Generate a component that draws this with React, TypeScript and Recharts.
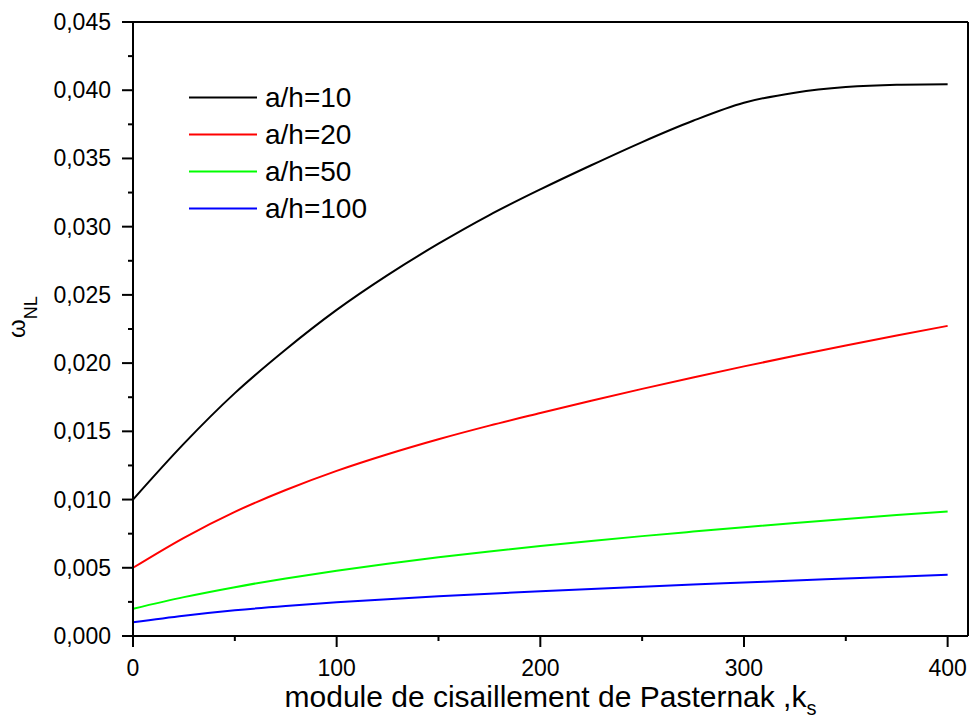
import { LineChart, Line, XAxis, YAxis, Legend, ReferenceLine, Label } from "recharts";

// shear modulus k_s (x)
const kValues = [0, 25, 50, 75, 100, 125, 150, 175, 200, 225, 250, 275, 300, 325, 350, 375, 400];

// omega_NL for each a/h ratio
const ah10 = [0.01000, 0.01410, 0.01780, 0.02100, 0.02390, 0.02645, 0.02875, 0.03085, 0.03273, 0.03450, 0.03620, 0.03776, 0.03908, 0.03982, 0.04023, 0.04040, 0.04044];
const ah20 = [0.00500, 0.00720, 0.00910, 0.01070, 0.01210, 0.01332, 0.01442, 0.01542, 0.01634, 0.01724, 0.01811, 0.01895, 0.01976, 0.02054, 0.02129, 0.02202, 0.02273];
const ah50 = [0.00200, 0.00285, 0.00358, 0.00422, 0.00479, 0.00530, 0.00577, 0.00620, 0.00660, 0.00697, 0.00732, 0.00765, 0.00797, 0.00828, 0.00858, 0.00886, 0.00912];
const ah100 = [0.00100, 0.00148, 0.00188, 0.00220, 0.00247, 0.00270, 0.00291, 0.00310, 0.00328, 0.00345, 0.00361, 0.00377, 0.00392, 0.00407, 0.00421, 0.00435, 0.00449];

const seriesNames = ["a/h=10", "a/h=20", "a/h=50", "a/h=100"];

// major + minor ticks (every other one is labelled)
const xTicks = [0, 50, 100, 150, 200, 250, 300, 350, 400];
const yTicks = [0, 0.0025, 0.005, 0.0075, 0.01, 0.0125, 0.015, 0.0175, 0.02, 0.0225, 0.025, 0.0275, 0.03, 0.0325, 0.035, 0.0375, 0.04, 0.0425, 0.045];

const data = kValues.map((k, i) => ({
  k,
  ah10: ah10[i],
  ah20: ah20[i],
  ah50: ah50[i],
  ah100: ah100[i],
}));

const FONT = "'Liberation Sans', Arial, sans-serif";

function XTick(props: any) {
  const { x, y, payload, index } = props;
  const major = index % 2 === 0;
  return (
    <g>
      <line x1={x} x2={x} y1={y} y2={y + (major ? 11 : 5)} stroke="#000" strokeWidth={2} />
      {major && (
        <text x={x} y={y + 32} textAnchor="middle" dominantBaseline="central" fontSize={23} fontFamily={FONT} fill="#000">
          {payload.value}
        </text>
      )}
    </g>
  );
}

function YTick(props: any) {
  const { x, y, payload, index } = props;
  const major = index % 2 === 0;
  return (
    <g>
      <line x1={x} x2={x - (major ? 11 : 5)} y1={y} y2={y} stroke="#000" strokeWidth={2} />
      {major && (
        <text x={x - 22} y={y} textAnchor="end" dominantBaseline="central" fontSize={23} fontFamily={FONT} fill="#000">
          {Number(payload.value).toFixed(3).replace(".", ",")}
        </text>
      )}
    </g>
  );
}

function XLabel(props: any) {
  const { viewBox } = props;
  const cx = viewBox.x + viewBox.width / 2;
  return (
    <text x={cx} y={707} textAnchor="middle" fontSize={30} fontFamily={FONT} fill="#000">
      module de cisaillement de Pasternak ,k
      <tspan fontSize={20} dy={8}>s</tspan>
    </text>
  );
}

function YLabel() {
  return (
    <text x={25} y={317} transform="rotate(-90, 25, 317)" textAnchor="middle" fontFamily={FONT} fill="#000">
      <tspan fontSize={24}>ω</tspan>
      <tspan fontSize={18} dy={12}>NL</tspan>
    </text>
  );
}

function LegendBox(props: any) {
  const items = [...(props.payload || [])].sort(
    (a: any, b: any) => seriesNames.indexOf(a.value) - seriesNames.indexOf(b.value)
  );
  return (
    <div style={{ fontFamily: FONT }}>
      {items.map((p: any) => (
        <div key={p.value} style={{ display: "flex", alignItems: "center", height: 37 }}>
          <svg width={68} height={37}>
            <line x1={0} x2={68} y1={18.5} y2={18.5} stroke={p.color} strokeWidth={2} />
          </svg>
          <span style={{ fontSize: 28, marginLeft: 8, color: "#000", lineHeight: "37px" }}>{p.value}</span>
        </div>
      ))}
    </div>
  );
}

export default function App() {
  return (
    <div style={{ position: "absolute", left: 0, top: 0, background: "#fff" }}>
      <LineChart width={970} height={718} data={data} margin={{ top: 22, right: 2, bottom: 0, left: 0 }}>
        <XAxis
          dataKey="k"
          type="number"
          domain={[0, 410]}
          ticks={xTicks}
          interval={0}
          tickSize={0}
          tickMargin={0}
          tickLine={false}
          tick={<XTick />}
          axisLine={{ stroke: "#000", strokeWidth: 2 }}
          height={82}
        >
          <Label content={<XLabel />} />
        </XAxis>
        <YAxis
          type="number"
          domain={[0, 0.045]}
          ticks={yTicks}
          interval={0}
          tickSize={0}
          tickMargin={0}
          tickLine={false}
          tick={<YTick />}
          axisLine={{ stroke: "#000", strokeWidth: 2 }}
          width={133}
        >
          <Label content={<YLabel />} />
        </YAxis>
        <ReferenceLine y={0.045} stroke="#000" strokeWidth={2} />
        <ReferenceLine x={410} stroke="#000" strokeWidth={2} />
        <Legend
          layout="vertical"
          align="center"
          verticalAlign="middle"
          wrapperStyle={{ left: 189, top: 79, width: "auto" }}
          content={<LegendBox />}
        />
        <Line type="monotone" dataKey="ah10" name={seriesNames[0]} stroke="#000000" strokeWidth={2} dot={false} isAnimationActive={false} />
        <Line type="monotone" dataKey="ah20" name={seriesNames[1]} stroke="#ff0000" strokeWidth={2} dot={false} isAnimationActive={false} />
        <Line type="monotone" dataKey="ah50" name={seriesNames[2]} stroke="#00ff00" strokeWidth={2} dot={false} isAnimationActive={false} />
        <Line type="monotone" dataKey="ah100" name={seriesNames[3]} stroke="#0000ff" strokeWidth={2} dot={false} isAnimationActive={false} />
      </LineChart>
    </div>
  );
}
